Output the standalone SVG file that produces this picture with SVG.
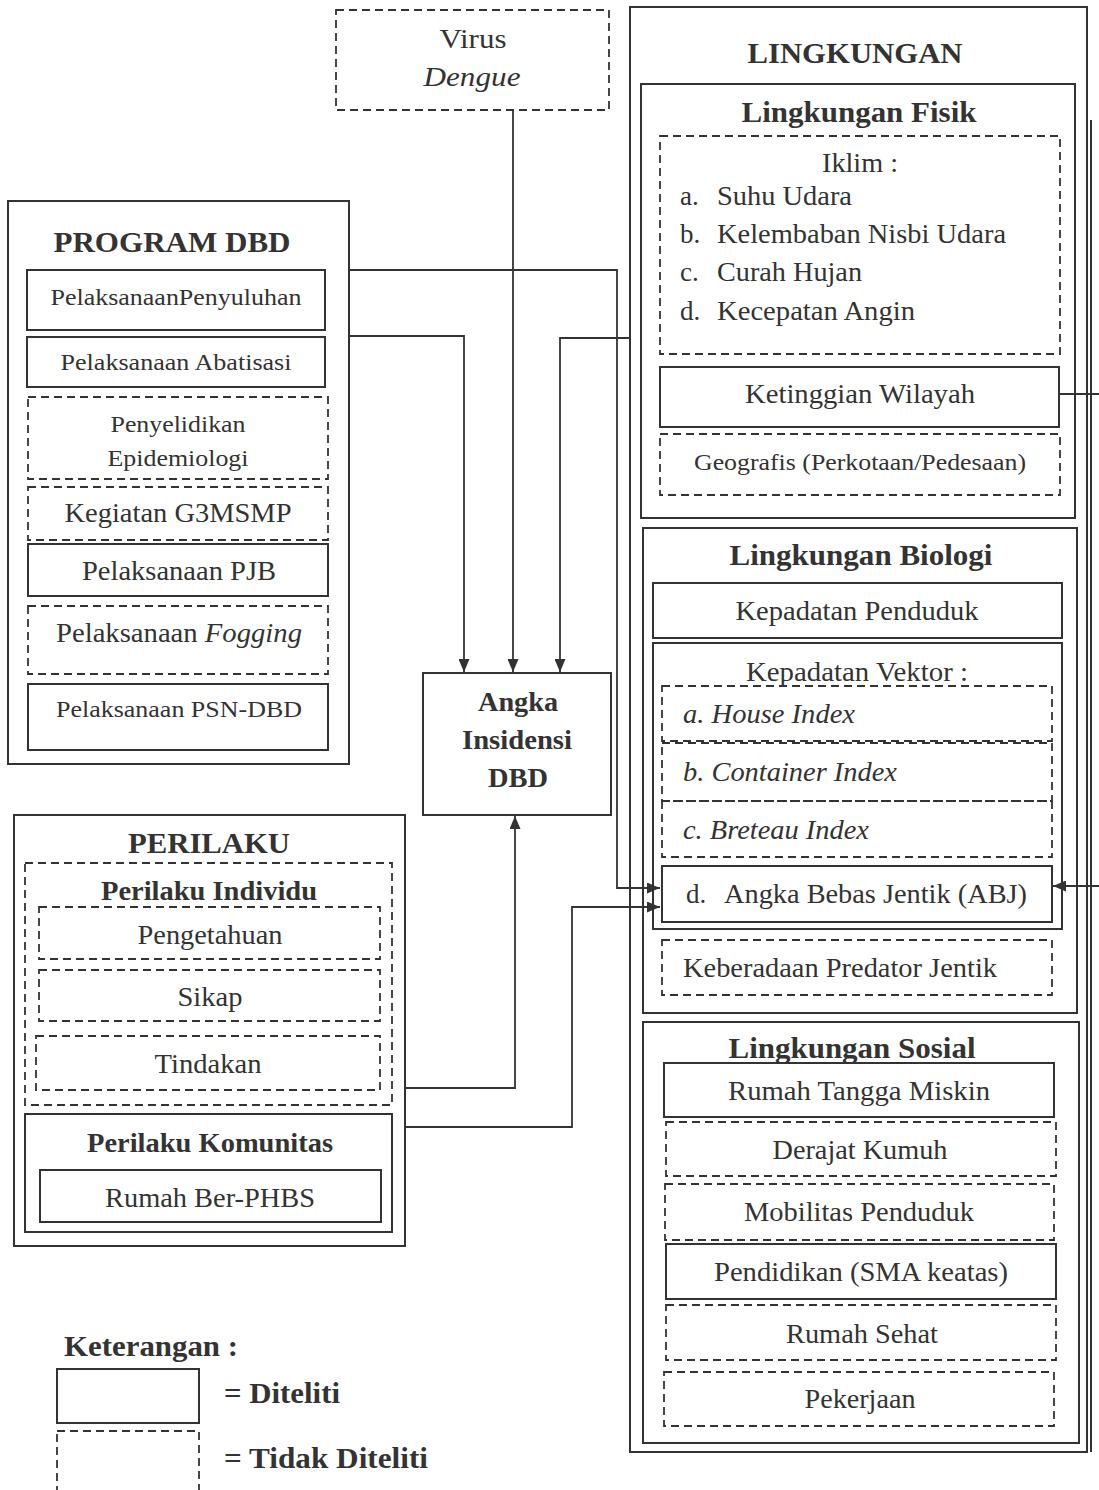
<svg xmlns="http://www.w3.org/2000/svg" width="1099" height="1490" viewBox="0 0 1099 1490">
<defs>
<style>
.box{fill:none;stroke:#333;stroke-width:2}
.dash{fill:none;stroke:#333;stroke-width:1.8;stroke-dasharray:8 5}
.conn{fill:none;stroke:#333;stroke-width:1.8}
text{font-family:"Liberation Serif","Times New Roman",serif;fill:#333;font-size:27px;text-anchor:middle}
.b{font-weight:bold}
.i{font-style:italic}
.s{text-anchor:start}
.sm{font-size:24px}
.lg{font-size:29px}
</style>
<marker id="arr" markerUnits="userSpaceOnUse" markerWidth="13" markerHeight="11" refX="13" refY="5.5" orient="auto">
<path d="M0,0 L13,5.5 L0,11 z" fill="#333"/>
</marker>
</defs>
<rect width="1099" height="1490" fill="#fff"/>

<g id="virus">
<rect class="dash" x="336" y="10" width="273" height="100"/>
<text x="473" y="48" textLength="67" lengthAdjust="spacingAndGlyphs">Virus</text>
<text class="i" x="472" y="86" textLength="97" lengthAdjust="spacingAndGlyphs">Dengue</text>
</g>

<g id="lingkungan">
<rect class="box" x="630" y="7" width="457" height="1445"/>
<line class="box" x1="1091" y1="120" x2="1091" y2="1452"/>
<text class="b lg" x="855" y="63" textLength="215" lengthAdjust="spacingAndGlyphs">LINGKUNGAN</text>
</g>

<g id="fisik">
<rect class="box" x="641" y="84" width="434" height="434"/>
<text class="b lg" x="859" y="122" textLength="235" lengthAdjust="spacingAndGlyphs">Lingkungan Fisik</text>
<g id="iklim">
<rect class="dash" x="660" y="136" width="400" height="218"/>
<text x="860" y="172" textLength="76" lengthAdjust="spacingAndGlyphs">Iklim :</text>
<text class="s" x="680" y="205">a.</text>
<text class="s" x="717" y="205" textLength="135" lengthAdjust="spacingAndGlyphs">Suhu Udara</text>
<text class="s" x="680" y="243">b.</text>
<text class="s" x="717" y="243" textLength="289" lengthAdjust="spacingAndGlyphs">Kelembaban Nisbi Udara</text>
<text class="s" x="680" y="281">c.</text>
<text class="s" x="717" y="281" textLength="145" lengthAdjust="spacingAndGlyphs">Curah Hujan</text>
<text class="s" x="680" y="320">d.</text>
<text class="s" x="717" y="320" textLength="198" lengthAdjust="spacingAndGlyphs">Kecepatan Angin</text>
</g>
<g id="ketinggian">
<rect class="box" x="660" y="367" width="399" height="60"/>
<text x="860" y="403" textLength="230" lengthAdjust="spacingAndGlyphs">Ketinggian Wilayah</text>
</g>
<g id="geografis">
<rect class="dash" x="660" y="434" width="400" height="61"/>
<text class="sm" x="860" y="470" textLength="332" lengthAdjust="spacingAndGlyphs">Geografis (Perkotaan/Pedesaan)</text>
</g>
</g>

<g id="biologi">
<rect class="box" x="643" y="528" width="434" height="485"/>
<text class="b lg" x="861" y="565" textLength="263" lengthAdjust="spacingAndGlyphs">Lingkungan Biologi</text>
<g id="kep-penduduk">
<rect class="box" x="653" y="583" width="409" height="55"/>
<text x="857" y="620" textLength="243" lengthAdjust="spacingAndGlyphs">Kepadatan Penduduk</text>
</g>
<g id="kep-vektor">
<rect class="box" x="653" y="643" width="409" height="286"/>
<text x="857" y="681" textLength="222" lengthAdjust="spacingAndGlyphs">Kepadatan Vektor :</text>
</g>
<g id="house">
<rect class="dash" x="662" y="686" width="390" height="55"/>
<text class="i s" x="683" y="723" textLength="172" lengthAdjust="spacingAndGlyphs">a. House Index</text>
</g>
<g id="container">
<rect class="dash" x="662" y="743" width="390" height="58"/>
<text class="i s" x="683" y="781" textLength="214" lengthAdjust="spacingAndGlyphs">b. Container Index</text>
</g>
<g id="breteau">
<rect class="dash" x="662" y="801" width="390" height="56"/>
<text class="i s" x="683" y="839" textLength="186" lengthAdjust="spacingAndGlyphs">c. Breteau Index</text>
</g>
<g id="abj">
<rect class="box" x="662" y="866" width="390" height="56"/>
<text class="s" x="686" y="903">d.</text>
<text class="s" x="724" y="903" textLength="303" lengthAdjust="spacingAndGlyphs">Angka Bebas Jentik (ABJ)</text>
</g>
<g id="predator">
<rect class="dash" x="662" y="940" width="390" height="55"/>
<text class="s" x="683" y="977" textLength="314" lengthAdjust="spacingAndGlyphs">Keberadaan Predator Jentik</text>
</g>
</g>

<g id="sosial">
<rect class="box" x="643" y="1022" width="436" height="421"/>
<text class="b lg" x="852" y="1058" textLength="247" lengthAdjust="spacingAndGlyphs">Lingkungan Sosial</text>
<g id="rtm">
<rect class="box" x="664" y="1063" width="390" height="54"/>
<text x="859" y="1100" textLength="262" lengthAdjust="spacingAndGlyphs">Rumah Tangga Miskin</text>
</g>
<g id="kumuh">
<rect class="dash" x="666" y="1122" width="390" height="54"/>
<text x="860" y="1159" textLength="175" lengthAdjust="spacingAndGlyphs">Derajat Kumuh</text>
</g>
<g id="mobilitas">
<rect class="dash" x="665" y="1184" width="389" height="56"/>
<text x="859" y="1221" textLength="230" lengthAdjust="spacingAndGlyphs">Mobilitas Penduduk</text>
</g>
<g id="pendidikan">
<rect class="box" x="666" y="1244" width="390" height="55"/>
<text x="861" y="1281" textLength="294" lengthAdjust="spacingAndGlyphs">Pendidikan (SMA keatas)</text>
</g>
<g id="rumah-sehat">
<rect class="dash" x="666" y="1305" width="390" height="55"/>
<text x="862" y="1343" textLength="152" lengthAdjust="spacingAndGlyphs">Rumah Sehat</text>
</g>
<g id="pekerjaan">
<rect class="dash" x="664" y="1372" width="390" height="54"/>
<text x="860" y="1408" textLength="111" lengthAdjust="spacingAndGlyphs">Pekerjaan</text>
</g>
</g>

<g id="angka">
<rect class="box" x="423" y="673" width="188" height="142"/>
<text class="b" x="518" y="711" textLength="80" lengthAdjust="spacingAndGlyphs">Angka</text>
<text class="b" x="517" y="749" textLength="110" lengthAdjust="spacingAndGlyphs">Insidensi</text>
<text class="b" x="518" y="787" textLength="60" lengthAdjust="spacingAndGlyphs">DBD</text>
</g>

<g id="program">
<rect class="box" x="8" y="201" width="341" height="563"/>
<text class="b lg" x="172" y="252" textLength="237" lengthAdjust="spacingAndGlyphs">PROGRAM DBD</text>
<g id="penyuluhan">
<rect class="box" x="27" y="270" width="298" height="60"/>
<text class="sm" x="176" y="305" textLength="251" lengthAdjust="spacingAndGlyphs">PelaksanaanPenyuluhan</text>
</g>
<g id="abatisasi">
<rect class="box" x="27" y="337" width="298" height="50"/>
<text class="sm" x="176" y="370" textLength="231" lengthAdjust="spacingAndGlyphs">Pelaksanaan Abatisasi</text>
</g>
<g id="penyelidikan">
<rect class="dash" x="28" y="397" width="300" height="82"/>
<text class="sm" x="178" y="432" textLength="135" lengthAdjust="spacingAndGlyphs">Penyelidikan</text>
<text class="sm" x="178" y="466" textLength="141" lengthAdjust="spacingAndGlyphs">Epidemiologi</text>
</g>
<g id="g3msmp">
<rect class="dash" x="28" y="487" width="300" height="53"/>
<text x="178" y="522" textLength="227" lengthAdjust="spacingAndGlyphs">Kegiatan G3MSMP</text>
</g>
<g id="pjb">
<rect class="box" x="28" y="544" width="300" height="52"/>
<text x="179" y="580" textLength="194" lengthAdjust="spacingAndGlyphs">Pelaksanaan PJB</text>
</g>
<g id="fogging">
<rect class="dash" x="28" y="606" width="300" height="68"/>
<text x="179" y="642" textLength="246" lengthAdjust="spacingAndGlyphs">Pelaksanaan <tspan class="i">Fogging</tspan></text>
</g>
<g id="psn">
<rect class="box" x="28" y="684" width="300" height="66"/>
<text class="sm" x="179" y="717" textLength="246" lengthAdjust="spacingAndGlyphs">Pelaksanaan PSN-DBD</text>
</g>
</g>

<g id="perilaku">
<rect class="box" x="14" y="815" width="391" height="431"/>
<text class="b lg" x="209" y="853" textLength="162" lengthAdjust="spacingAndGlyphs">PERILAKU</text>
<g id="individu">
<rect class="dash" x="25" y="863" width="367" height="242"/>
<text class="b" x="209" y="900" textLength="216" lengthAdjust="spacingAndGlyphs">Perilaku Individu</text>
</g>
<g id="pengetahuan">
<rect class="dash" x="39" y="907" width="341" height="52"/>
<text x="210" y="944" textLength="145" lengthAdjust="spacingAndGlyphs">Pengetahuan</text>
</g>
<g id="sikap">
<rect class="dash" x="39" y="970" width="341" height="51"/>
<text x="210" y="1006" textLength="65" lengthAdjust="spacingAndGlyphs">Sikap</text>
</g>
<g id="tindakan">
<rect class="dash" x="36" y="1036" width="344" height="54"/>
<text x="208" y="1073" textLength="107" lengthAdjust="spacingAndGlyphs">Tindakan</text>
</g>
<g id="komunitas">
<rect class="box" x="25" y="1114" width="367" height="118"/>
<text class="b" x="210" y="1152" textLength="246" lengthAdjust="spacingAndGlyphs">Perilaku Komunitas</text>
</g>
<g id="phbs">
<rect class="box" x="40" y="1170" width="341" height="52"/>
<text x="210" y="1207" textLength="210" lengthAdjust="spacingAndGlyphs">Rumah Ber-PHBS</text>
</g>
</g>

<g id="legend">
<text class="b s lg" x="64" y="1356" textLength="174" lengthAdjust="spacingAndGlyphs">Keterangan :</text>
<rect class="box" x="57" y="1369" width="142" height="54"/>
<text class="b s lg" x="224" y="1403" textLength="116" lengthAdjust="spacingAndGlyphs">= Diteliti</text>
<rect class="dash" x="57" y="1431" width="142" height="65"/>
<text class="b s lg" x="224" y="1468" textLength="204" lengthAdjust="spacingAndGlyphs">= Tidak Diteliti</text>
</g>

<g id="connectors">
<path class="conn" d="M349,270 H617 V888 H660" marker-end="url(#arr)"/>
<path class="conn" d="M349,336 H464 V672" marker-end="url(#arr)"/>
<path class="conn" d="M513,110 V672" marker-end="url(#arr)"/>
<path class="conn" d="M630,338 H560 V672" marker-end="url(#arr)"/>
<path class="conn" d="M1059,394 H1102 V886 H1053" marker-end="url(#arr)"/>
<path class="conn" d="M405,1088 H515 V816" marker-end="url(#arr)"/>
<path class="conn" d="M405,1127 H572 V907 H660" marker-end="url(#arr)"/>
</g>
</svg>
